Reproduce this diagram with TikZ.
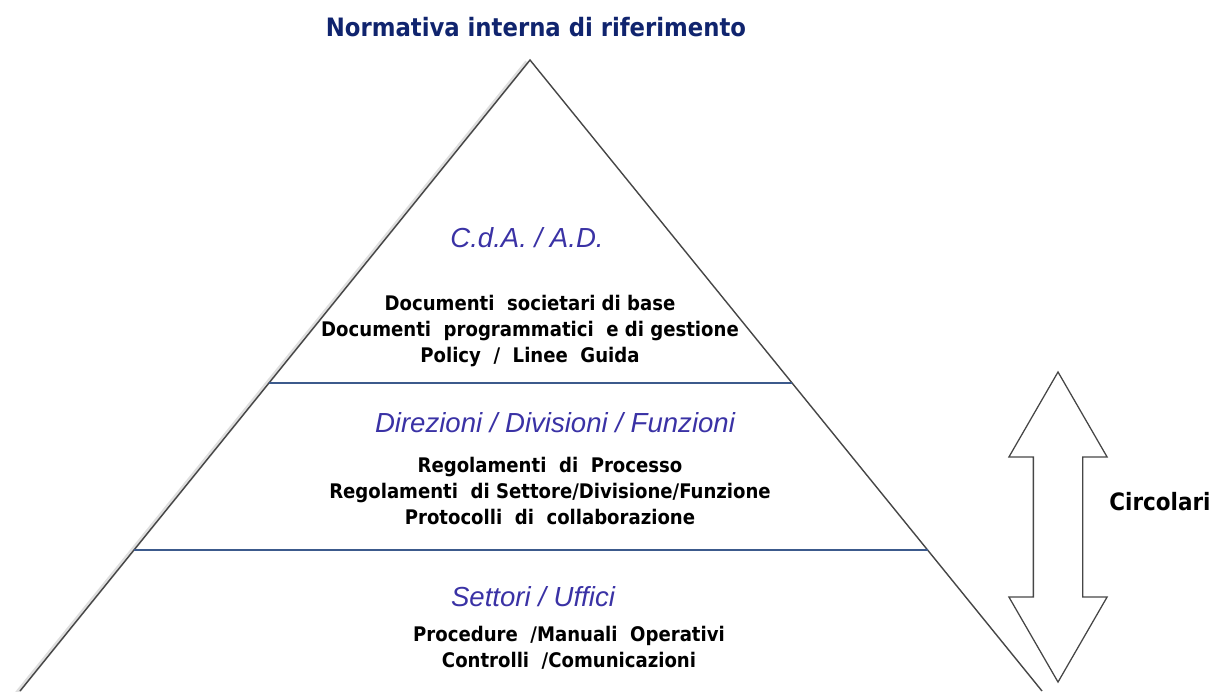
\documentclass[tikz,border=0pt]{standalone}
\usepackage{fontspec}
\setmainfont{Liberation Sans}
\newfontfamily\tahoma{DejaVu Sans Condensed}
\usetikzlibrary{shapes.arrows, positioning, calc}

\definecolor{navy}{RGB}{16,36,110}
\definecolor{levelblue}{RGB}{58,50,165}
\definecolor{rule}{RGB}{60,90,140}
\definecolor{edge}{RGB}{70,70,70}

\begin{document}
\begin{tikzpicture}[
    x=0.025cm, y=-0.025cm,
    title/.style={font=\tahoma\bfseries\fontsize{18}{21}\selectfont, text=navy},
    level/.style={font=\itshape\fontsize{19.6}{22}\selectfont, text=levelblue},
    docs/.style={font=\tahoma\bfseries\fontsize{14.3}{18.3}\selectfont, align=center, text=black},
    side/.style={edge, line width=1pt},
    shadow/.style={gray!25, line width=3pt},
    tier/.style={rule, line width=1pt}
]
\useasboundingbox (0,0) rectangle (1214,691);

% Pyramid
\coordinate (apex) at (530,60);
\coordinate (baseL) at (20,691);
\coordinate (baseR) at (1042,691);
\coordinate (t1L) at ($(apex)!0.512!(baseL)$);
\coordinate (t1R) at ($(apex)!0.512!(baseR)$);
\coordinate (t2L) at ($(apex)!0.7765!(baseL)$);
\coordinate (t2R) at ($(apex)!0.7765!(baseR)$);

\draw[shadow] ($(apex)+(-3,2)$) -- ($(baseL)+(-3,2)$);
\draw[side] (baseL) -- (apex) -- (baseR);
\draw[tier] (t1L) -- (t1R);
\draw[tier] (t2L) -- (t2R);

% Title
\node[title] (title) at (536,27) {Normativa interna di riferimento};

% Top level
\node[level] (cda) at (527,238) {C.d.A. / A.D.};
\node[docs] (cdadocs) at (530,331) {Documenti\ \ societari di base\\Documenti\ \ programmatici\ \ e di gestione\\Policy\ \ /\ \ Linee\ \ Guida};

% Middle level
\node[level] (dir) at (555,423) {Direzioni / Divisioni / Funzioni};
\node[docs] (dirdocs) at (550,491) {Regolamenti\ \ di\ \ Processo\\Regolamenti\ \ di Settore/Divisione/Funzione\\Protocolli\ \ di\ \ collaborazione};

% Bottom level
\node[level] (sett) at (533,597) {Settori / Uffici};
\node[docs] (settdocs) at (569,648) {Procedure\ \ /Manuali\ \ Operativi\\Controlli\ \ /Comunicazioni};

% Circolari
\node[double arrow, draw=edge, line width=0.9pt, rotate=90, inner xsep=0pt, inner ysep=0.6cm,
      minimum height=7.75cm, double arrow head extend=0.6125cm,
      double arrow tip angle=60] (circ) at (1058,527) {};
\node[font=\tahoma\bfseries\fontsize{17}{20}\selectfont] (circlabel) at (1160,502) {Circolari};

\end{tikzpicture}
\end{document}
